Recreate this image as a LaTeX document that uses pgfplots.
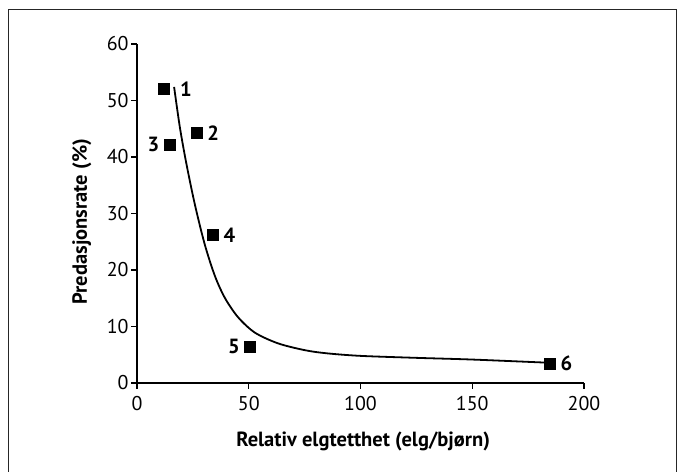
\documentclass[border=0pt]{standalone}
\usepackage{pgfplots}
\pgfplotsset{compat=1.18}
\usepackage{fontspec}
\setmainfont{PT Sans}

% sites labelled on the right
\pgfplotstableread{
x     y     lab
26.5  44.3  2
33.8  26.2  4
184.5 3.5   6
}\sitesR
% sites labelled on the left
\pgfplotstableread{
x     y     lab
14.5  42.2  3
50.5  6.5   5
}\sitesL
\pgfplotstableread{
x     y     lab
12.0  52.0  1
}\sitesA

% fitted curve
\pgfplotstableread{
x     y
16.6  52.4
19.2  45.2
22.2  38.6
26.0  31.4
30.4  24.4
34.9  18.9
39.4  15.0
45.3  11.6
52.8  8.9
63.2  7.0
75.2  5.8
85.0  5.25
100.0 4.8
125.0 4.45
150.0 4.15
183.3 3.6
}\fit

\newcommand\bigfont{\fontsize{20}{23}\selectfont}
\newcommand\labfont{\fontsize{20.6}{24}\selectfont\bfseries}

\pgfplotsset{site/.style={only marks, mark=square*, mark size=5.5bp, black,
    point meta=explicit symbolic, nodes near coords,
    every node near coord/.append style={inner sep=0pt, font=\labfont}}}

\begin{document}
\begin{tikzpicture}[x=1bp,y=1bp]
\path[use as bounding box] (0,0) rectangle (680,472);
\draw[line width=0.8bp, black!85] (8,-5) -- (8,463) -- (676,463) -- (676,-5);

\begin{axis}[
    at={(137bp,89bp)}, anchor=south west,
    scale only axis, width=447bp, height=339bp,
    xmin=0, xmax=200, ymin=0, ymax=60,
    axis lines=left, axis line style={line width=1.6bp, -},
    xtick={0,50,...,200}, ytick={0,10,...,60},
    tick align=outside, tick style={line width=1.4bp, black},
    major tick length=6bp,
    /pgf/number format/assume math mode=true,
    ticklabel style={font=\bigfont},
    xticklabel style={anchor=north, yshift=-4bp},
    yticklabel style={anchor=east, xshift=1bp},
    xlabel={Relativ elgtetthet (elg/bjørn)},
    ylabel={Predasjonsrate (\%)},
    xlabel style={font=\labfont, at={(axis description cs:0.506,0)},
        anchor=base, yshift=-63.5bp},
    ylabel style={font=\labfont, at={(axis description cs:-0.1119,0.476)},
        anchor=base, rotate=0},
    clip=false,
]
\addplot[smooth, line width=1.8bp, black] table[x=x, y=y] {\fit};
\addplot[site, every node near coord/.append style={anchor=west, xshift=11bp}]
    table[x=x, y=y, meta=lab] {\sitesR};
\addplot[site, every node near coord/.append style={anchor=east, xshift=-10bp}]
    table[x=x, y=y, meta=lab] {\sitesL};
\addplot[site, every node near coord/.append style={anchor=west, xshift=16bp}]
    table[x=x, y=y, meta=lab] {\sitesA};
\end{axis}
\end{tikzpicture}
\end{document}
